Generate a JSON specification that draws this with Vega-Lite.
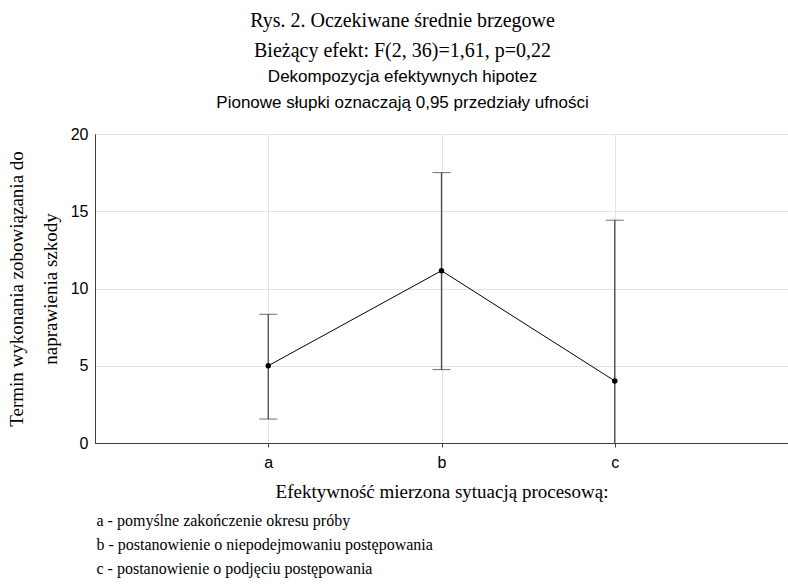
{
  "$schema": "https://vega.github.io/schema/vega-lite/v6.json",
  "autosize": {"type": "none"},
  "padding": {"left": 95, "top": 134, "right": 0, "bottom": 141},
  "width": 693,
  "height": 309,
  "background": "white",
  "title": {
    "text": ["Rys. 2. Oczekiwane średnie brzegowe", "Bieżący efekt: F(2, 36)=1,61, p=0,22"],
    "subtitle": ["Dekompozycja efektywnych hipotez", "Pionowe słupki oznaczają 0,95 przedziały ufności"],
    "anchor": "middle",
    "frame": "group",
    "dx": -39,
    "font": "Liberation Serif",
    "fontSize": 20,
    "fontWeight": "normal",
    "lineHeight": 30,
    "color": "black",
    "subtitleFont": "Liberation Sans",
    "subtitleFontSize": 17,
    "subtitleLineHeight": 26,
    "subtitleColor": "black",
    "subtitlePadding": 8,
    "offset": 15
  },
  "data": {
    "values": [
      {"g": "a", "mean": 5.0, "lo": 1.55, "hi": 8.33},
      {"g": "b", "mean": 11.15, "lo": 4.75, "hi": 17.5},
      {"g": "c", "mean": 4.02, "lo": -6.38, "hi": 14.42}
    ]
  },
  "layer": [
    {
      "mark": {"type": "rule", "color": "#4a4a4a", "strokeWidth": 1.3, "clip": true},
      "encoding": {
        "x": {"field": "g", "type": "ordinal", "scale": {"type": "point", "padding": 1},
          "axis": {"orient": "bottom", "title": "Efektywność mierzona sytuacją procesową:", "grid": true, "labelAngle": 0, "tickSize": 4, "labelPadding": 7, "titlePadding": 12, "titleFontSize": 19}},
        "y": {"field": "lo", "type": "quantitative", "scale": {"domain": [0, 20], "nice": false},
          "axis": {"title": ["Termin wykonania zobowiązania do", "naprawienia szkody"], "values": [0, 5, 10, 15, 20], "grid": true, "ticks": false, "labelPadding": 7, "titlePadding": 10, "titleLineHeight": 34}},
        "y2": {"field": "hi"}
      }
    },
    {
      "mark": {"type": "tick", "color": "#333333", "size": 18, "thickness": 1, "clip": true},
      "encoding": {
        "x": {"field": "g", "type": "ordinal", "axis": null},
        "y": {"field": "lo", "type": "quantitative"}
      }
    },
    {
      "mark": {"type": "tick", "color": "#333333", "size": 18, "thickness": 1, "clip": true},
      "encoding": {
        "x": {"field": "g", "type": "ordinal", "axis": null},
        "y": {"field": "hi", "type": "quantitative"}
      }
    },
    {
      "mark": {"type": "line", "color": "black", "strokeWidth": 1},
      "encoding": {
        "x": {"field": "g", "type": "ordinal",
          "axis": {"orient": "bottom", "offset": 65, "title": ["a - pomyślne zakończenie okresu próby", "b - postanowienie o niepodejmowaniu postępowania", "c - postanowienie o podjęciu postępowania"], "grid": false, "labels": false, "ticks": false, "domain": false, "titleAlign": "left", "titleAnchor": "start", "titleX": 1, "titleFontSize": 16, "titleLineHeight": 24, "titlePadding": 4}},
        "y": {"field": "mean", "type": "quantitative"}
      }
    },
    {
      "mark": {"type": "point", "filled": true, "color": "black", "size": 30, "opacity": 1},
      "encoding": {
        "x": {"field": "g", "type": "ordinal", "axis": null},
        "y": {"field": "mean", "type": "quantitative"}
      }
    }
  ],
  "resolve": {"axis": {"x": "independent"}},
  "config": {
    "view": {"stroke": "#404040", "strokeWidth": 1},
    "axis": {
      "labelFont": "Liberation Sans",
      "labelFontSize": 16,
      "labelColor": "black",
      "domainColor": "#404040",
      "tickColor": "#404040",
      "gridColor": "#e3e3e3",
      "titleFont": "Liberation Serif",
      "titleFontSize": 19,
      "titleFontWeight": "normal",
      "titleColor": "black"
    }
  }
}
